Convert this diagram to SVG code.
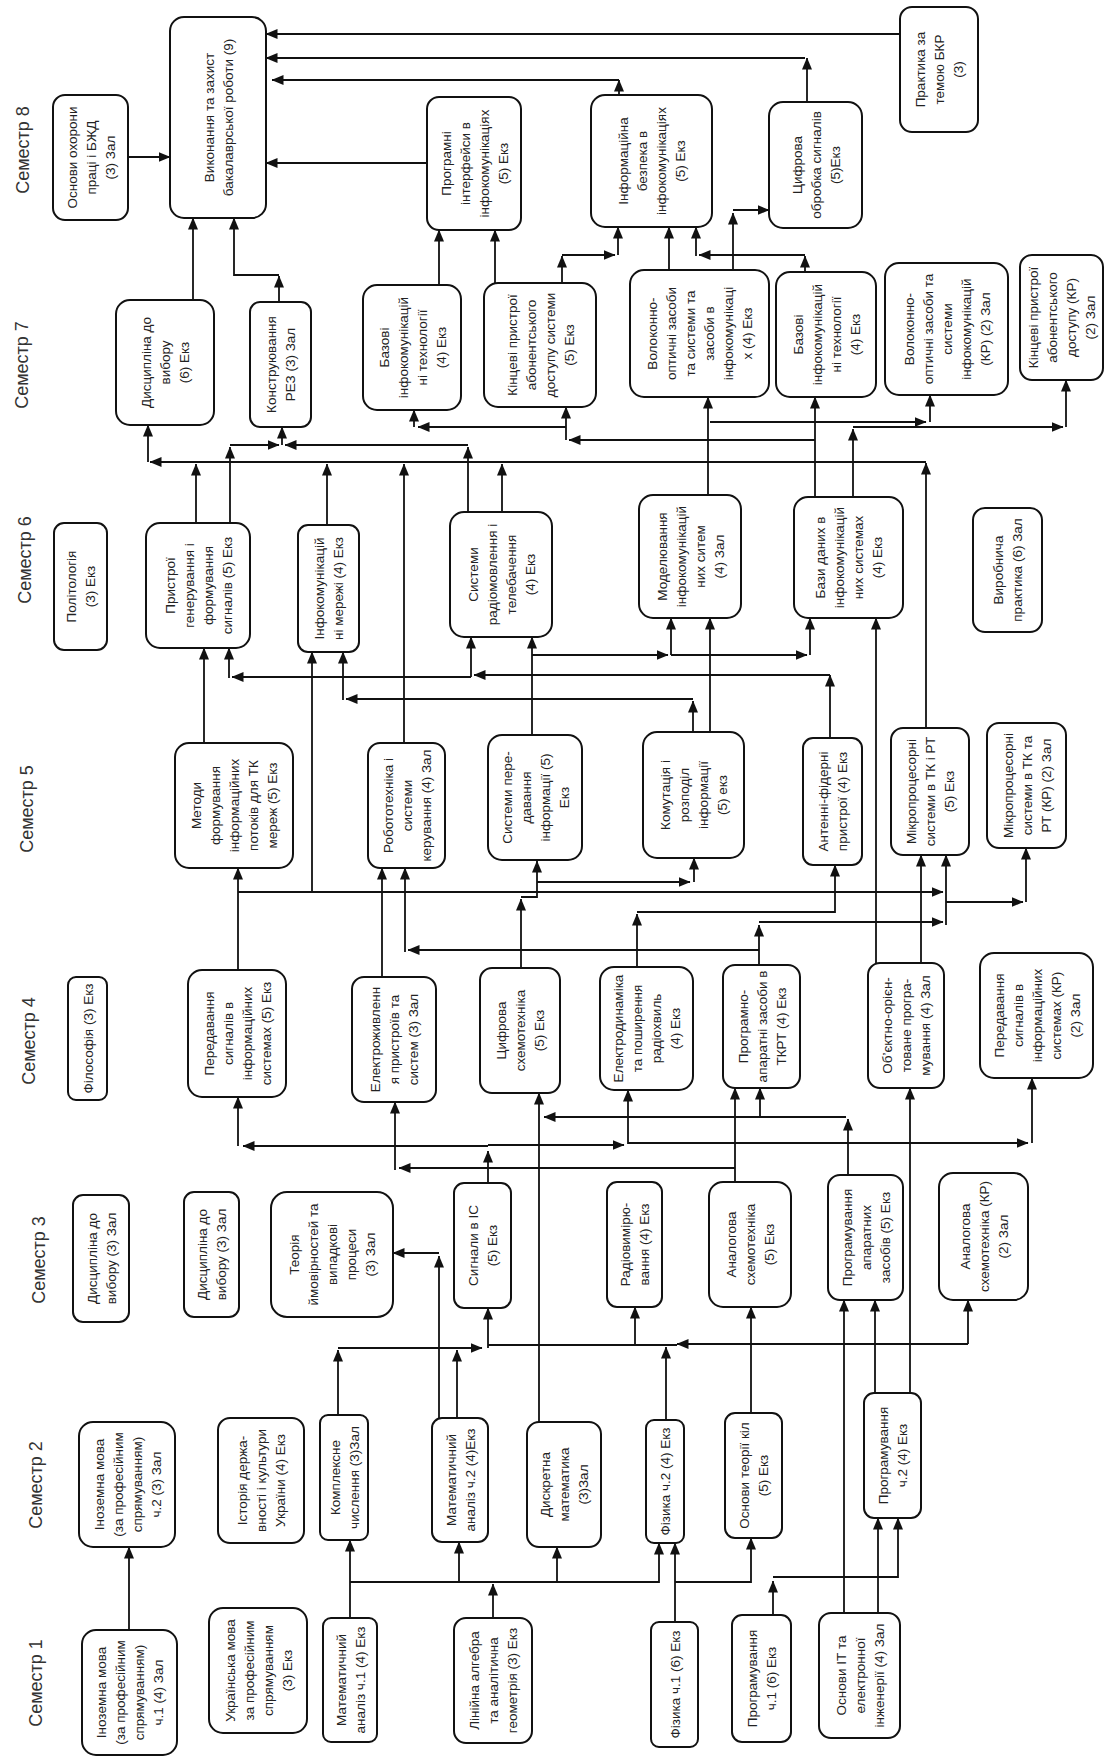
<svg xmlns="http://www.w3.org/2000/svg" width="1115" height="1757" viewBox="0 0 1115 1757">
<style>
.n rect{fill:#fff;stroke:#111;stroke-width:2}
text{font-family:"Liberation Sans",Arial,sans-serif;fill:#222;text-anchor:middle}
.n text{font-size:13.5px}
.sem{font-size:18px;fill:#333}
#connectors path{fill:none;stroke:#111;stroke-width:1.8;marker-end:url(#a)}
#connectors path.p{marker-end:none}
</style>
<defs>
<marker id="a" viewBox="0 0 12 10" refX="11.5" refY="5" markerWidth="12" markerHeight="10" markerUnits="userSpaceOnUse" orient="auto"><path d="M0 0L12 5L0 10z" fill="#111"/></marker>
</defs>
<rect width="1115" height="1757" fill="#fff"/>
<g id="labels">
<text class="sem" transform="rotate(-90 23 150)" x="23" y="156">Семестр 8</text>
<text class="sem" transform="rotate(-90 22 365)" x="22" y="371">Семестр 7</text>
<text class="sem" transform="rotate(-90 25 560)" x="25" y="566">Семестр 6</text>
<text class="sem" transform="rotate(-90 27 809)" x="27" y="815">Семестр 5</text>
<text class="sem" transform="rotate(-90 29 1041)" x="29" y="1047">Семестр 4</text>
<text class="sem" transform="rotate(-90 39 1260)" x="39" y="1266">Семестр 3</text>
<text class="sem" transform="rotate(-90 36 1485)" x="36" y="1491">Семестр 2</text>
<text class="sem" transform="rotate(-90 36 1683)" x="36" y="1689">Семестр 1</text>
</g>
<g id="connectors">
<path d="M900 34H266"/>
<path d="M807 102V58"/>
<path d="M805 58H266"/>
<path d="M619 95V80"/>
<path d="M619 80H272"/>
<path d="M427 163H266"/>
<path d="M128 157H170"/>
<path d="M193 300V218"/>
<path d="M279 302V276"/>
<path d="M279 275H234V218"/>
<path d="M439 285V230"/>
<path d="M495 283V230"/>
<path d="M562 283V256"/>
<path d="M562 255H615"/>
<path d="M618 255V227"/>
<path d="M669 270V227"/>
<path d="M805 272V256"/>
<path d="M805 255H699"/>
<path d="M696 256V227"/>
<path d="M733 270V213"/>
<path d="M733 210H769"/>
<path d="M926 728V463"/>
<path d="M926 462H150"/>
<path d="M148 462V425"/>
<path d="M196 523V464"/>
<path d="M327 525V464"/>
<path d="M404 743V464"/>
<path d="M502 512V464"/>
<path d="M230 523V447"/>
<path d="M230 445H279"/>
<path d="M468 512V447"/>
<path d="M468 445H285"/>
<path d="M282 445V427"/>
<path d="M815 497V397"/>
<path d="M815 440H569"/>
<path d="M566 440V407"/>
<path d="M566 427H418"/>
<path d="M414 427V410"/>
<path d="M708 495V397"/>
<path d="M710 422H926"/>
<path d="M930 422V395"/>
<path d="M853 497V429"/>
<path d="M853 427H1063"/>
<path d="M1066 427V380"/>
<path d="M204 743V648"/>
<path d="M830 738V675"/>
<path d="M830 675H474"/>
<path d="M471 677V637"/>
<path d="M471 677H232"/>
<path d="M229 678V648"/>
<path d="M693 732V701"/>
<path d="M693 699H346"/>
<path d="M343 700V652"/>
<path d="M710 732V618"/>
<path d="M532 735V637"/>
<path d="M532 655H668"/>
<path d="M671 655V618"/>
<path d="M671 655H807"/>
<path d="M810 655V618"/>
<path d="M312 892V652"/>
<path d="M876 963V618"/>
<path d="M238 970V868"/>
<path d="M238 892H943"/>
<path d="M382 977V868"/>
<path d="M759 965V925"/>
<path d="M759 922H943"/>
<path d="M759 950H408"/>
<path d="M405 952V868"/>
<path d="M521 968V899"/>
<path d="M521 897H537V861"/>
<path d="M537 882H690"/>
<path d="M694 882V858"/>
<path d="M637 967V914"/>
<path d="M637 912H835V865"/>
<path d="M921 963V855"/>
<path d="M946 925V855"/>
<path d="M946 902H1023"/>
<path d="M1026 902V848"/>
<path d="M488 1183V1151"/>
<path d="M488 1146H243"/>
<path d="M238 1146V1097"/>
<path d="M488 1145H624"/>
<path d="M628 1144V1090"/>
<path d="M628 1143H1028"/>
<path d="M1032 1143V1078"/>
<path d="M735 1182V1088"/>
<path d="M735 1168H399"/>
<path d="M395 1170V1102"/>
<path d="M539 1422V1093"/>
<path d="M848 1175V1119"/>
<path d="M846 1117H544"/>
<path d="M760 1117V1088"/>
<path d="M910 1393V1088"/>
<path d="M439 1418V1256"/>
<path d="M439 1253H393"/>
<path d="M338 1415V1350"/>
<path d="M338 1348H482"/>
<path d="M488 1348V1308"/>
<path d="M968 1344H677"/>
<path class="p" d="M677 1345H488"/>
<path d="M968 1344V1300"/>
<path d="M635 1344V1307"/>
<path d="M666 1420V1347"/>
<path d="M457 1418V1350"/>
<path d="M751 1413V1307"/>
<path d="M875 1393V1300"/>
<path d="M844 1613V1300"/>
<path d="M129 1630V1547"/>
<path d="M350 1618V1540"/>
<path d="M350 1582H659V1543"/>
<path d="M459 1582V1542"/>
<path d="M557 1582V1547"/>
<path d="M493 1618V1584"/>
<path d="M675 1622V1543"/>
<path d="M675 1582H751V1538"/>
<path d="M773 1615V1581"/>
<path d="M773 1577H898V1518"/>
<path d="M878 1613V1518"/>
</g>
<g id="n_okhorony" class="n"><rect x="53" y="95" width="75" height="125" rx="12"/><text transform="rotate(-90 90.5 157.5)" x="90.5" y="157.5"><tspan x="90.5" dy="-14">Основи охорони</tspan><tspan x="90.5" dy="19">праці і БЖД</tspan><tspan x="90.5" dy="19">(3) Зал</tspan></text></g>
<g id="n_bkr" class="n"><rect x="170" y="17" width="96" height="201" rx="14"/><text transform="rotate(-90 218 117.5)" x="218" y="117.5"><tspan x="218" dy="-4.5">Виконання та захист</tspan><tspan x="218" dy="19">бакалаврської роботи (9)</tspan></text></g>
<g id="n_prog_interf" class="n"><rect x="427" y="97" width="94" height="133" rx="12"/><text transform="rotate(-90 474 163.5)" x="474" y="163.5"><tspan x="474" dy="-23.5">Програмні</tspan><tspan x="474" dy="19">інтерфейси в</tspan><tspan x="474" dy="19">інфокомунікаціях</tspan><tspan x="474" dy="19">(5) Екз</tspan></text></g>
<g id="n_infobezpeka" class="n"><rect x="591" y="95" width="121" height="132" rx="14"/><text transform="rotate(-90 651.5 161)" x="651.5" y="161"><tspan x="651.5" dy="-23.5">Інформаційна</tspan><tspan x="651.5" dy="19">безпека в</tspan><tspan x="651.5" dy="19">інфокомунікаціях</tspan><tspan x="651.5" dy="19">(5) Екз</tspan></text></g>
<g id="n_tsyfr_obrobka" class="n"><rect x="769" y="102" width="93" height="126" rx="14"/><text transform="rotate(-90 815.5 165)" x="815.5" y="165"><tspan x="815.5" dy="-14">Цифрова</tspan><tspan x="815.5" dy="19">обробка сигналів</tspan><tspan x="815.5" dy="19">(5)Екз</tspan></text></g>
<g id="n_praktyka_bkr" class="n"><rect x="900" y="7" width="78" height="125" rx="12"/><text transform="rotate(-90 939 69.5)" x="939" y="69.5"><tspan x="939" dy="-14">Практика за</tspan><tspan x="939" dy="19">темою БКР</tspan><tspan x="939" dy="19">(3)</tspan></text></g>
<g id="n_dysc6" class="n"><rect x="116" y="300" width="98" height="125" rx="14"/><text transform="rotate(-90 165 362.5)" x="165" y="362.5"><tspan x="165" dy="-14">Дисципліна до</tspan><tspan x="165" dy="19">вибору</tspan><tspan x="165" dy="19">(6) Екз</tspan></text></g>
<g id="n_konstr" class="n"><rect x="250" y="302" width="61" height="125" rx="10"/><text transform="rotate(-90 280.5 364.5)" x="280.5" y="364.5"><tspan x="280.5" dy="-4.5">Конструювання</tspan><tspan x="280.5" dy="19">РЕЗ (3) Зал</tspan></text></g>
<g id="n_bazovi1" class="n"><rect x="363" y="285" width="98" height="125" rx="14"/><text transform="rotate(-90 412 347.5)" x="412" y="347.5"><tspan x="412" dy="-23.5">Базові</tspan><tspan x="412" dy="19">інфокомунікацій</tspan><tspan x="412" dy="19">ні технології</tspan><tspan x="412" dy="19">(4) Екз</tspan></text></g>
<g id="n_kintsevi" class="n"><rect x="484" y="283" width="112" height="124" rx="14"/><text transform="rotate(-90 540 345)" x="540" y="345"><tspan x="540" dy="-23.5">Кінцеві пристрої</tspan><tspan x="540" dy="19">абонентського</tspan><tspan x="540" dy="19">доступу системи</tspan><tspan x="540" dy="19">(5) Екз</tspan></text></g>
<g id="n_volokno" class="n"><rect x="630" y="270" width="139" height="127" rx="14"/><text transform="rotate(-90 699.5 333.5)" x="699.5" y="333.5"><tspan x="699.5" dy="-42.5">Волоконно-</tspan><tspan x="699.5" dy="19">оптичні засоби</tspan><tspan x="699.5" dy="19">та системи та</tspan><tspan x="699.5" dy="19">засоби в</tspan><tspan x="699.5" dy="19">інфокомунікаці</tspan><tspan x="699.5" dy="19">х (4) Екз</tspan></text></g>
<g id="n_bazovi2" class="n"><rect x="776" y="272" width="100" height="125" rx="14"/><text transform="rotate(-90 826 334.5)" x="826" y="334.5"><tspan x="826" dy="-23.5">Базові</tspan><tspan x="826" dy="19">інфокомунікацій</tspan><tspan x="826" dy="19">ні технології</tspan><tspan x="826" dy="19">(4) Екз</tspan></text></g>
<g id="n_vo_kr" class="n"><rect x="885" y="263" width="123" height="132" rx="14"/><text transform="rotate(-90 946.5 329)" x="946.5" y="329"><tspan x="946.5" dy="-33">Волоконно-</tspan><tspan x="946.5" dy="19">оптичні засоби та</tspan><tspan x="946.5" dy="19">системи</tspan><tspan x="946.5" dy="19">інфокомунікацій</tspan><tspan x="946.5" dy="19">(КР) (2) Зал</tspan></text></g>
<g id="n_kintsevi_kr" class="n"><rect x="1020" y="255" width="83" height="125" rx="12"/><text transform="rotate(-90 1061.5 317.5)" x="1061.5" y="317.5"><tspan x="1061.5" dy="-23.5">Кінцеві пристрої</tspan><tspan x="1061.5" dy="19">абонентського</tspan><tspan x="1061.5" dy="19">доступу (КР)</tspan><tspan x="1061.5" dy="19">(2) Зал</tspan></text></g>
<g id="n_polit" class="n"><rect x="54" y="523" width="53" height="127" rx="10"/><text transform="rotate(-90 80.5 586.5)" x="80.5" y="586.5"><tspan x="80.5" dy="-4.5">Політологія</tspan><tspan x="80.5" dy="19">(3) Екз</tspan></text></g>
<g id="n_prystroi_gen" class="n"><rect x="146" y="523" width="104" height="125" rx="14"/><text transform="rotate(-90 198 585.5)" x="198" y="585.5"><tspan x="198" dy="-23.5">Пристрої</tspan><tspan x="198" dy="19">генерування і</tspan><tspan x="198" dy="19">формування</tspan><tspan x="198" dy="19">сигналів (5) Екз</tspan></text></g>
<g id="n_infomerezhi" class="n"><rect x="298" y="525" width="61" height="127" rx="10"/><text transform="rotate(-90 328.5 588.5)" x="328.5" y="588.5"><tspan x="328.5" dy="-4.5">Інфокомунікацій</tspan><tspan x="328.5" dy="19">ні мережі (4) Екз</tspan></text></g>
<g id="n_radio" class="n"><rect x="450" y="512" width="102" height="125" rx="14"/><text transform="rotate(-90 501 574.5)" x="501" y="574.5"><tspan x="501" dy="-23.5">Системи</tspan><tspan x="501" dy="19">радіомовлення і</tspan><tspan x="501" dy="19">телебачення</tspan><tspan x="501" dy="19">(4) Екз</tspan></text></g>
<g id="n_modeluv" class="n"><rect x="639" y="495" width="102" height="123" rx="14"/><text transform="rotate(-90 690 556.5)" x="690" y="556.5"><tspan x="690" dy="-23.5">Моделювання</tspan><tspan x="690" dy="19">інфокомунікацій</tspan><tspan x="690" dy="19">них ситем</tspan><tspan x="690" dy="19">(4) Зал</tspan></text></g>
<g id="n_bazy" class="n"><rect x="794" y="497" width="109" height="121" rx="14"/><text transform="rotate(-90 848.5 557.5)" x="848.5" y="557.5"><tspan x="848.5" dy="-23.5">Бази даних в</tspan><tspan x="848.5" dy="19">інфокомунікацій</tspan><tspan x="848.5" dy="19">них системах</tspan><tspan x="848.5" dy="19">(4) Екз</tspan></text></g>
<g id="n_vyrobn" class="n"><rect x="973" y="508" width="69" height="124" rx="12"/><text transform="rotate(-90 1007.5 570)" x="1007.5" y="570"><tspan x="1007.5" dy="-4.5">Виробнича</tspan><tspan x="1007.5" dy="19">практика (6) Зал</tspan></text></g>
<g id="n_metody" class="n"><rect x="175" y="743" width="118" height="125" rx="14"/><text transform="rotate(-90 234 805.5)" x="234" y="805.5"><tspan x="234" dy="-33">Методи</tspan><tspan x="234" dy="19">формування</tspan><tspan x="234" dy="19">інформаційних</tspan><tspan x="234" dy="19">потоків для ТК</tspan><tspan x="234" dy="19">мереж (5) Екз</tspan></text></g>
<g id="n_robot" class="n"><rect x="368" y="743" width="77" height="125" rx="12"/><text transform="rotate(-90 406.5 805.5)" x="406.5" y="805.5"><tspan x="406.5" dy="-14">Робототехніка  і</tspan><tspan x="406.5" dy="19">системи</tspan><tspan x="406.5" dy="19">керування (4) Зал</tspan></text></g>
<g id="n_syst_pered" class="n"><rect x="488" y="735" width="94" height="125" rx="14"/><text transform="rotate(-90 535 797.5)" x="535" y="797.5"><tspan x="535" dy="-23.5">Системи пере-</tspan><tspan x="535" dy="19">давання</tspan><tspan x="535" dy="19">інформації (5)</tspan><tspan x="535" dy="19">Екз</tspan></text></g>
<g id="n_komut" class="n"><rect x="643" y="732" width="101" height="126" rx="14"/><text transform="rotate(-90 693.5 795)" x="693.5" y="795"><tspan x="693.5" dy="-23.5">Комутація і</tspan><tspan x="693.5" dy="19">розподіл</tspan><tspan x="693.5" dy="19">інформації</tspan><tspan x="693.5" dy="19">(5) екз</tspan></text></g>
<g id="n_antenni" class="n"><rect x="803" y="738" width="59" height="127" rx="10"/><text transform="rotate(-90 832.5 801.5)" x="832.5" y="801.5"><tspan x="832.5" dy="-4.5">Антенні-фідерні</tspan><tspan x="832.5" dy="19">пристрої (4) Екз</tspan></text></g>
<g id="n_mp" class="n"><rect x="891" y="728" width="78" height="127" rx="12"/><text transform="rotate(-90 930 791.5)" x="930" y="791.5"><tspan x="930" dy="-14">Мікропроцесорні</tspan><tspan x="930" dy="19">системи в ТК і РТ</tspan><tspan x="930" dy="19">(5) Екз</tspan></text></g>
<g id="n_mp_kr" class="n"><rect x="987" y="723" width="79" height="125" rx="12"/><text transform="rotate(-90 1026.5 785.5)" x="1026.5" y="785.5"><tspan x="1026.5" dy="-14">Мікропроцесорні</tspan><tspan x="1026.5" dy="19">системи в ТК та</tspan><tspan x="1026.5" dy="19">РТ (КР) (2) Зал</tspan></text></g>
<g id="n_filos" class="n"><rect x="68" y="977" width="39" height="123" rx="8"/><text transform="rotate(-90 87.5 1038.5)" x="87.5" y="1038.5"><tspan x="87.5" dy="5">Філософія (3) Екз</tspan></text></g>
<g id="n_pered" class="n"><rect x="188" y="970" width="98" height="127" rx="14"/><text transform="rotate(-90 237 1033.5)" x="237" y="1033.5"><tspan x="237" dy="-23.5">Передавання</tspan><tspan x="237" dy="19">сигналів в</tspan><tspan x="237" dy="19">інформаційних</tspan><tspan x="237" dy="19">системах (5) Екз</tspan></text></g>
<g id="n_elektr" class="n"><rect x="352" y="977" width="84" height="125" rx="12"/><text transform="rotate(-90 394 1039.5)" x="394" y="1039.5"><tspan x="394" dy="-14">Електроживленн</tspan><tspan x="394" dy="19">я пристроїв та</tspan><tspan x="394" dy="19">систем (3) Зал</tspan></text></g>
<g id="n_tsyfr_skhem" class="n"><rect x="480" y="968" width="80" height="125" rx="12"/><text transform="rotate(-90 520 1030.5)" x="520" y="1030.5"><tspan x="520" dy="-14">Цифрова</tspan><tspan x="520" dy="19">схемотехніка</tspan><tspan x="520" dy="19">(5) Екз</tspan></text></g>
<g id="n_elektrodyn" class="n"><rect x="600" y="967" width="93" height="123" rx="14"/><text transform="rotate(-90 646.5 1028.5)" x="646.5" y="1028.5"><tspan x="646.5" dy="-23.5">Електродинаміка</tspan><tspan x="646.5" dy="19">та поширення</tspan><tspan x="646.5" dy="19">радіохвиль</tspan><tspan x="646.5" dy="19">(4) Екз</tspan></text></g>
<g id="n_prog_apar" class="n"><rect x="723" y="965" width="77" height="123" rx="12"/><text transform="rotate(-90 761.5 1026.5)" x="761.5" y="1026.5"><tspan x="761.5" dy="-14">Програмно-</tspan><tspan x="761.5" dy="19">апаратні засоби в</tspan><tspan x="761.5" dy="19">ТКРТ (4) Екз</tspan></text></g>
<g id="n_oop" class="n"><rect x="868" y="963" width="76" height="125" rx="12"/><text transform="rotate(-90 906 1025.5)" x="906" y="1025.5"><tspan x="906" dy="-14">Об’єктно-орієн-</tspan><tspan x="906" dy="19">товане програ-</tspan><tspan x="906" dy="19">мування (4) Зал</tspan></text></g>
<g id="n_pered_kr" class="n"><rect x="980" y="953" width="113" height="125" rx="14"/><text transform="rotate(-90 1036.5 1015.5)" x="1036.5" y="1015.5"><tspan x="1036.5" dy="-33">Передавання</tspan><tspan x="1036.5" dy="19">сигналів в</tspan><tspan x="1036.5" dy="19">інформаційних</tspan><tspan x="1036.5" dy="19">системах (КР)</tspan><tspan x="1036.5" dy="19">(2) Зал</tspan></text></g>
<g id="n_dysc3a" class="n"><rect x="73" y="1195" width="56" height="127" rx="10"/><text transform="rotate(-90 101 1258.5)" x="101" y="1258.5"><tspan x="101" dy="-4.5">Дисципліна до</tspan><tspan x="101" dy="19">вибору (3) Зал</tspan></text></g>
<g id="n_dysc3b" class="n"><rect x="184" y="1192" width="55" height="125" rx="10"/><text transform="rotate(-90 211.5 1254.5)" x="211.5" y="1254.5"><tspan x="211.5" dy="-4.5">Дисципліна до</tspan><tspan x="211.5" dy="19">вибору (3) Зал</tspan></text></g>
<g id="n_teoria" class="n"><rect x="271" y="1192" width="122" height="125" rx="16"/><text transform="rotate(-90 332 1254.5)" x="332" y="1254.5"><tspan x="332" dy="-33">Теорія</tspan><tspan x="332" dy="19">ймовірностей та</tspan><tspan x="332" dy="19">випадкові</tspan><tspan x="332" dy="19">процеси</tspan><tspan x="332" dy="19">(3) Зал</tspan></text></g>
<g id="n_syhnaly" class="n"><rect x="454" y="1183" width="57" height="125" rx="10"/><text transform="rotate(-90 482.5 1245.5)" x="482.5" y="1245.5"><tspan x="482.5" dy="-4.5">Сигнали в ІС</tspan><tspan x="482.5" dy="19">(5) Екз</tspan></text></g>
<g id="n_radiovym" class="n"><rect x="607" y="1182" width="55" height="125" rx="10"/><text transform="rotate(-90 634.5 1244.5)" x="634.5" y="1244.5"><tspan x="634.5" dy="-4.5">Радіовимірю-</tspan><tspan x="634.5" dy="19">вання (4) Екз</tspan></text></g>
<g id="n_analog" class="n"><rect x="709" y="1182" width="82" height="125" rx="14"/><text transform="rotate(-90 750 1244.5)" x="750" y="1244.5"><tspan x="750" dy="-14">Аналогова</tspan><tspan x="750" dy="19">схемотехніка</tspan><tspan x="750" dy="19">(5) Екз</tspan></text></g>
<g id="n_prog_apar_zas" class="n"><rect x="828" y="1175" width="75" height="125" rx="12"/><text transform="rotate(-90 865.5 1237.5)" x="865.5" y="1237.5"><tspan x="865.5" dy="-14">Програмування</tspan><tspan x="865.5" dy="19">апаратних</tspan><tspan x="865.5" dy="19">засобів (5) Екз</tspan></text></g>
<g id="n_analog_kr" class="n"><rect x="939" y="1173" width="89" height="127" rx="14"/><text transform="rotate(-90 983.5 1236.5)" x="983.5" y="1236.5"><tspan x="983.5" dy="-14">Аналогова</tspan><tspan x="983.5" dy="19">схемотехніка (КР)</tspan><tspan x="983.5" dy="19">(2) Зал</tspan></text></g>
<g id="n_inoz2" class="n"><rect x="79" y="1422" width="96" height="125" rx="14"/><text transform="rotate(-90 127 1484.5)" x="127" y="1484.5"><tspan x="127" dy="-23.5">Іноземна мова</tspan><tspan x="127" dy="19">(за професійним</tspan><tspan x="127" dy="19">спрямуванням)</tspan><tspan x="127" dy="19">ч.2 (3) Зал</tspan></text></g>
<g id="n_istoria" class="n"><rect x="218" y="1418" width="86" height="125" rx="12"/><text transform="rotate(-90 261 1480.5)" x="261" y="1480.5"><tspan x="261" dy="-14">Історія держа-</tspan><tspan x="261" dy="19">вності і культури</tspan><tspan x="261" dy="19">України (4) Екз</tspan></text></g>
<g id="n_kompl" class="n"><rect x="320" y="1415" width="48" height="125" rx="8"/><text transform="rotate(-90 344 1477.5)" x="344" y="1477.5"><tspan x="344" dy="-4.5">Комплексне</tspan><tspan x="344" dy="19">числення (3)Зал</tspan></text></g>
<g id="n_matan2" class="n"><rect x="432" y="1418" width="56" height="124" rx="10"/><text transform="rotate(-90 460 1480)" x="460" y="1480"><tspan x="460" dy="-4.5">Математичний</tspan><tspan x="460" dy="19">аналіз ч.2 (4)Екз</tspan></text></g>
<g id="n_dyskr" class="n"><rect x="527" y="1422" width="74" height="125" rx="12"/><text transform="rotate(-90 564 1484.5)" x="564" y="1484.5"><tspan x="564" dy="-14">Дискретна</tspan><tspan x="564" dy="19">математика</tspan><tspan x="564" dy="19">(3)Зал</tspan></text></g>
<g id="n_fiz2" class="n"><rect x="646" y="1420" width="38" height="123" rx="8"/><text transform="rotate(-90 665 1481.5)" x="665" y="1481.5"><tspan x="665" dy="5">Фізика ч.2 (4) Екз</tspan></text></g>
<g id="n_otk" class="n"><rect x="725" y="1413" width="57" height="125" rx="10"/><text transform="rotate(-90 753.5 1475.5)" x="753.5" y="1475.5"><tspan x="753.5" dy="-4.5">Основи теорії кіл</tspan><tspan x="753.5" dy="19">(5) Екз</tspan></text></g>
<g id="n_prog2" class="n"><rect x="864" y="1393" width="57" height="125" rx="10"/><text transform="rotate(-90 892.5 1455.5)" x="892.5" y="1455.5"><tspan x="892.5" dy="-4.5">Програмування</tspan><tspan x="892.5" dy="19">ч.2 (4) Екз</tspan></text></g>
<g id="n_inoz1" class="n"><rect x="82" y="1630" width="95" height="125" rx="14"/><text transform="rotate(-90 129.5 1692.5)" x="129.5" y="1692.5"><tspan x="129.5" dy="-23.5">Іноземна мова</tspan><tspan x="129.5" dy="19">(за професійним</tspan><tspan x="129.5" dy="19">спрямуванням)</tspan><tspan x="129.5" dy="19">ч.1 (4) Зал</tspan></text></g>
<g id="n_ukr" class="n"><rect x="209" y="1608" width="98" height="125" rx="14"/><text transform="rotate(-90 258 1670.5)" x="258" y="1670.5"><tspan x="258" dy="-23.5">Українська мова</tspan><tspan x="258" dy="19">за професійним</tspan><tspan x="258" dy="19">спрямуванням</tspan><tspan x="258" dy="19">(3) Екз</tspan></text></g>
<g id="n_matan1" class="n"><rect x="323" y="1618" width="54" height="124" rx="8"/><text transform="rotate(-90 350 1680)" x="350" y="1680"><tspan x="350" dy="-4.5">Математичний</tspan><tspan x="350" dy="19">аналіз ч.1 (4) Екз</tspan></text></g>
<g id="n_linalg" class="n"><rect x="454" y="1618" width="78" height="125" rx="12"/><text transform="rotate(-90 493 1680.5)" x="493" y="1680.5"><tspan x="493" dy="-14">Лінійна алгебра</tspan><tspan x="493" dy="19">та аналітична</tspan><tspan x="493" dy="19">геометрія (3) Екз</tspan></text></g>
<g id="n_fiz1" class="n"><rect x="651" y="1622" width="47" height="125" rx="8"/><text transform="rotate(-90 674.5 1684.5)" x="674.5" y="1684.5"><tspan x="674.5" dy="5">Фізика ч.1 (6) Екз</tspan></text></g>
<g id="n_prog1" class="n"><rect x="732" y="1615" width="59" height="127" rx="10"/><text transform="rotate(-90 761.5 1678.5)" x="761.5" y="1678.5"><tspan x="761.5" dy="-4.5">Програмування</tspan><tspan x="761.5" dy="19">ч.1 (6) Екз</tspan></text></g>
<g id="n_osnovy_it" class="n"><rect x="819" y="1613" width="81" height="125" rx="12"/><text transform="rotate(-90 859.5 1675.5)" x="859.5" y="1675.5"><tspan x="859.5" dy="-14">Основи ІТ та</tspan><tspan x="859.5" dy="19">електронної</tspan><tspan x="859.5" dy="19">інженерії (4) Зал</tspan></text></g>
</svg>
